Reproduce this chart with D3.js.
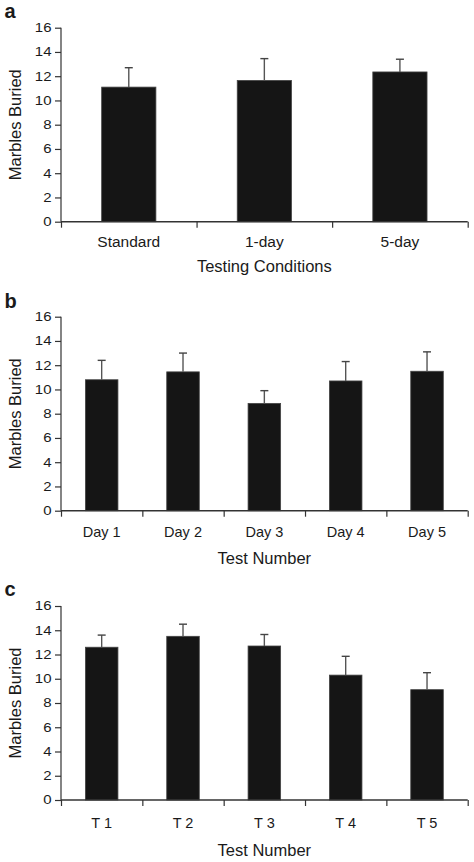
<!DOCTYPE html>
<html>
<head>
<meta charset="utf-8">
<script src="https://cdn.jsdelivr.net/npm/d3@7"></script>
<style>
  html, body { margin: 0; padding: 0; background: #fff; }
  svg { display: block; }
  text { font-family: "Liberation Sans", Arial, Helvetica, sans-serif; fill: #1a1a1a; }
</style>
</head>
<body>
<svg id="chart" width="474" height="862"></svg>
<script>
// ---------- data ----------
const panelLetters = ["a", "b", "c"];
const categoriesA = ["Standard", "1-day", "5-day"];
const valuesA = [11.1, 11.65, 12.35];
const errorsA = [1.6, 1.8, 1.05];

const categoriesB = ["Day 1", "Day 2", "Day 3", "Day 4", "Day 5"];
const valuesB = [10.8, 11.45, 8.85, 10.7, 11.5];
const errorsB = [1.6, 1.55, 1.05, 1.6, 1.6];

const categoriesC = ["T 1", "T 2", "T 3", "T 4", "T 5"];
const valuesC = [12.6, 13.5, 12.7, 10.3, 9.1];
const errorsC = [1.0, 1.0, 0.95, 1.55, 1.4];

const yTicks = [0, 2, 4, 6, 8, 10, 12, 14, 16];
const yTitle = "Marbles Buried";
const xTitles = ["Testing Conditions", "Test Number", "Test Number"];

// ---------- layout ----------
const svg = d3.select("#chart");
const left = 61, right = 467.7;
const panels = [
  { top: 27.7, bottom: 221.7, cats: categoriesA, vals: valuesA, errs: errorsA, letterY: 18.3, tickFs: 15.5, tickDy: 25, titleDy: 50 },
  { top: 316.7, bottom: 510.7, cats: categoriesB, vals: valuesB, errs: errorsB, letterY: 307.5, tickFs: 14.5, tickDy: 26, titleDy: 53.5 },
  { top: 606, bottom: 800, cats: categoriesC, vals: valuesC, errs: errorsC, letterY: 596, tickFs: 14.5, tickDy: 28, titleDy: 55.5 }
];
const axisColor = "#333";

panels.forEach((p, i) => {
  const g = svg.append("g");
  const y = d3.scaleLinear().domain([0, 16]).range([p.bottom, p.top]);
  const x = d3.scaleBand().domain(p.cats).range([left, right]).padding(0);
  const xb = d3.scaleLinear().domain([0, p.cats.length]).range([left, right]);
  const barW = x.bandwidth() * 0.40;

  // bars
  g.selectAll("rect.bar").data(p.cats).join("rect")
    .attr("class", "bar")
    .attr("x", d => x(d) + (x.bandwidth() - barW) / 2)
    .attr("width", barW)
    .attr("y", (d, j) => y(p.vals[j]))
    .attr("height", (d, j) => y(0) - y(p.vals[j]))
    .attr("fill", "#151515")
    .attr("stroke", "#444")
    .attr("stroke-width", 0.8);

  // error bars (upper only)
  const eb = g.selectAll("g.err").data(p.cats).join("g").attr("class", "err");
  eb.append("line")
    .attr("x1", d => x(d) + x.bandwidth() / 2)
    .attr("x2", d => x(d) + x.bandwidth() / 2)
    .attr("y1", (d, j) => y(p.vals[j]))
    .attr("y2", (d, j) => y(p.vals[j] + p.errs[j]))
    .attr("stroke", "#555").attr("stroke-width", 1.4);
  eb.append("line")
    .attr("x1", d => x(d) + x.bandwidth() / 2 - 4)
    .attr("x2", d => x(d) + x.bandwidth() / 2 + 4)
    .attr("y1", (d, j) => y(p.vals[j] + p.errs[j]))
    .attr("y2", (d, j) => y(p.vals[j] + p.errs[j]))
    .attr("stroke", "#444").attr("stroke-width", 1.4);

  // y axis
  const sx = 1.25;
  const ya = g.append("g").attr("transform", `translate(${left},0)`)
    .call(d3.axisLeft(y).tickValues(yTicks).tickSize(6).tickPadding(3).tickFormat(d3.format("d")));
  ya.select(".domain").attr("stroke", axisColor).attr("stroke-width", 1.2).attr("d", `M0,${p.top}V${p.bottom}`);
  ya.selectAll(".tick line").attr("stroke", axisColor).attr("stroke-width", 1.2);
  ya.selectAll(".tick text")
    .attr("font-size", 12).attr("fill", "#1a1a1a")
    .attr("x", -9.5 / sx)
    .attr("transform", `scale(${sx},1)`);

  // x axis: boundary ticks
  const xa = g.append("g").attr("transform", `translate(0,${p.bottom})`)
    .call(d3.axisBottom(xb).tickValues(d3.range(p.cats.length + 1)).tickSize(6).tickFormat(""));
  xa.select(".domain").attr("stroke", axisColor).attr("stroke-width", 1.4).attr("d", `M${left},0H${right}`);
  xa.selectAll(".tick line").attr("stroke", axisColor).attr("stroke-width", 1.2);

  // x axis: category labels
  const xl = g.append("g").attr("transform", `translate(0,${p.bottom})`)
    .call(d3.axisBottom(x).tickSize(0).tickPadding(0));
  xl.select(".domain").remove();
  xl.selectAll(".tick text")
    .attr("font-size", p.tickFs).attr("fill", "#1a1a1a")
    .attr("y", p.tickDy).attr("dy", 0);

  // x title
  g.append("text")
    .attr("x", (left + right) / 2)
    .attr("y", p.bottom + p.titleDy)
    .attr("text-anchor", "middle")
    .attr("font-size", 16.5)
    .text(xTitles[i]);

  // y title
  g.append("text")
    .attr("transform", `translate(${21},${(p.top + p.bottom) / 2}) rotate(-90)`)
    .attr("text-anchor", "middle")
    .attr("font-size", 16.5)
    .text(yTitle);

  // panel letter
  g.append("text")
    .attr("x", 4.5)
    .attr("y", p.letterY)
    .attr("font-size", 20)
    .attr("font-weight", "bold")
    .attr("fill", "#000")
    .text(panelLetters[i]);
});
</script>
</body>
</html>
